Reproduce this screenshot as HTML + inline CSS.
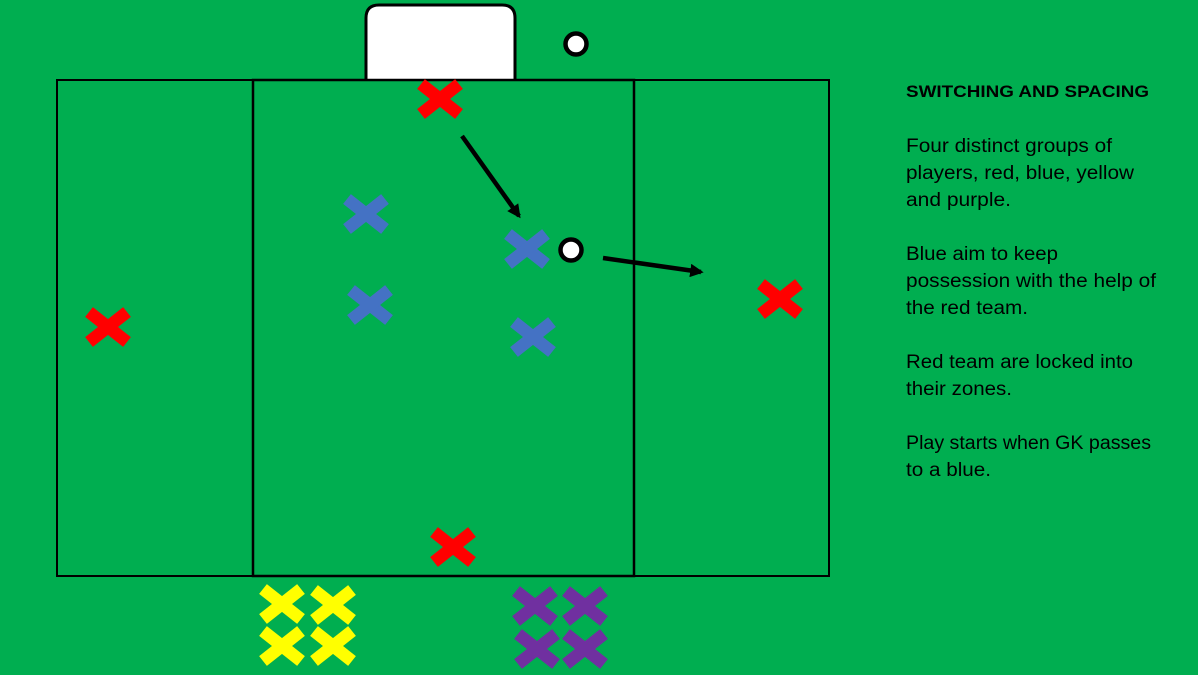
<!DOCTYPE html>
<html><head><meta charset="utf-8"><style>
html,body{margin:0;padding:0;background:#00AE50;}
svg{display:block}
text{font-family:"Liberation Sans",sans-serif;fill:#000}
</style></head><body>
<svg width="1198" height="675" viewBox="0 0 1198 675" xmlns="http://www.w3.org/2000/svg">
<defs>
<g id="x"><line x1="-19" y1="-15" x2="19" y2="15" stroke-width="12.5"/><line x1="-19" y1="15" x2="19" y2="-15" stroke-width="12.5"/></g>
<marker id="ah" viewBox="0 0 10 10" refX="8" refY="5" markerWidth="3" markerHeight="3" orient="auto"><path d="M0,0 L10,5 L0,10 z" fill="#000"/></marker>
</defs>
<rect width="1198" height="675" fill="#00AE50"/>
<path d="M366,80 V18 Q366,5 379,5 H502 Q515,5 515,18 V80" fill="#fff" stroke="#000" stroke-width="3"/>
<rect x="57" y="80" width="772" height="496" fill="none" stroke="#000" stroke-width="2"/>
<rect x="253" y="80" width="381" height="496" fill="none" stroke="#000" stroke-width="2.5"/>
<circle cx="576" cy="44" r="10.5" fill="#fff" stroke="#000" stroke-width="4.5"/>
<circle cx="571" cy="250" r="10.5" fill="#fff" stroke="#000" stroke-width="4.5"/>
<line x1="462" y1="136" x2="519" y2="216" stroke="#000" stroke-width="4.5" marker-end="url(#ah)"/>
<line x1="603" y1="258" x2="701" y2="272" stroke="#000" stroke-width="4.5" marker-end="url(#ah)"/>
<g stroke="#FF0000">
<use href="#x" x="440" y="99"/><use href="#x" x="108" y="327"/><use href="#x" x="780" y="299"/><use href="#x" x="453" y="547"/>
</g>
<g stroke="#4472C4">
<use href="#x" x="366" y="214"/><use href="#x" x="527" y="249"/><use href="#x" x="370" y="305"/><use href="#x" x="533" y="337"/>
</g>
<g stroke="#FFFF00">
<use href="#x" x="282" y="604"/><use href="#x" x="333" y="605"/><use href="#x" x="282" y="646"/><use href="#x" x="333" y="646"/>
</g>
<g stroke="#7030A0">
<use href="#x" x="535" y="606"/><use href="#x" x="585" y="606"/><use href="#x" x="537" y="649"/><use href="#x" x="585" y="649"/>
</g>
<text x="906" y="97" font-size="17" font-weight="bold" textLength="243" lengthAdjust="spacingAndGlyphs">SWITCHING AND SPACING</text>
<g font-size="19">
<text x="906" y="152" textLength="206" lengthAdjust="spacingAndGlyphs">Four distinct groups of</text>
<text x="906" y="179" textLength="228" lengthAdjust="spacingAndGlyphs">players, red, blue, yellow</text>
<text x="906" y="206" textLength="105" lengthAdjust="spacingAndGlyphs">and purple.</text>
<text x="906" y="260" textLength="152" lengthAdjust="spacingAndGlyphs">Blue aim to keep</text>
<text x="906" y="287" textLength="250" lengthAdjust="spacingAndGlyphs">possession with the help of</text>
<text x="906" y="314" textLength="122" lengthAdjust="spacingAndGlyphs">the red team.</text>
<text x="906" y="368" textLength="227" lengthAdjust="spacingAndGlyphs">Red team are locked into</text>
<text x="906" y="395" textLength="106" lengthAdjust="spacingAndGlyphs">their zones.</text>
<text x="906" y="449" textLength="245" lengthAdjust="spacingAndGlyphs">Play starts when GK passes</text>
<text x="906" y="476" textLength="85" lengthAdjust="spacingAndGlyphs">to a blue.</text>
</g>
</svg>
</body></html>
